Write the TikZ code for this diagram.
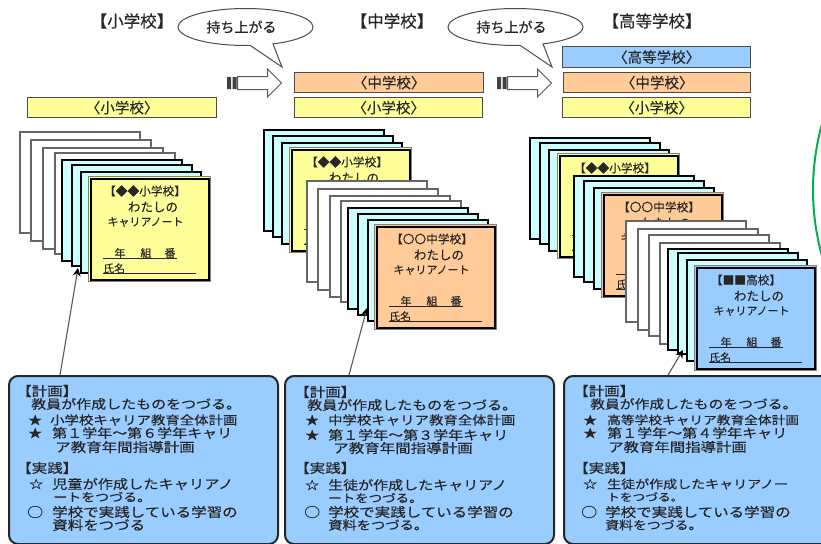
\documentclass[tikz,border=0pt]{standalone}
\usepackage{fontspec}
\setmainfont{Noto Sans CJK JP}[FakeBold=0.25]
\usetikzlibrary{shapes.callouts,shapes.arrows,arrows.meta}
\definecolor{cyellow}{HTML}{FFFF99}
\definecolor{corange}{HTML}{FFCC99}
\definecolor{cblue}{HTML}{99CCFF}
\definecolor{ccyan}{HTML}{CCFFFF}
\definecolor{ink}{HTML}{262626}
\newcommand{\fs}[1]{\fontsize{#1pt}{#1pt}\selectfont}
\tikzset{
  headlabel/.style={inner sep=0pt,text=ink,font=\fs{16.5}},
  barbox/.style={draw=black!70,line width=1.3pt,anchor=north west,inner sep=0pt,text=ink,font=\fs{14.5},minimum height=20pt},
  bubble/.style={ellipse callout,draw=black!70,fill=white,line width=1pt,minimum width=135pt,minimum height=37pt,inner sep=0pt,text=ink,font=\fs{14},callout pointer arc=20},
  movearrow/.style={single arrow,draw=black!65,fill=white,line width=1pt,minimum height=44pt,single arrow head extend=7.5pt,inner sep=0pt,anchor=west},
  whitecard/.style={draw=black!60,fill=white,line width=1.5pt,anchor=north west,minimum width=120pt,minimum height=101pt,inner sep=0pt},
  cyancard/.style={draw=black,fill=ccyan,line width=2pt,anchor=north west,minimum width=120pt,minimum height=101pt,inner sep=0pt},
  titlecard/.style={draw=black!50,line width=1pt,anchor=north west,minimum width=122pt,minimum height=105pt,inner sep=0pt},
  cardtext/.style={inner sep=0pt,text=ink},
  planbox/.style={draw=black!85,fill=cblue,line width=2pt,rounded corners=9pt,anchor=north west,minimum height=168pt,inner sep=0pt},
  planline/.style={inner sep=0pt,anchor=west,text=ink},
  pointer/.style={draw=black!65,line width=1.1pt,-{Stealth[length=8pt,width=8pt,color=black]}}
}
\newcommand{\cardW}[3]{\node[whitecard] (#1) at (#2,#3) {};}
\newcommand{\cardC}[3]{\node[cyancard] (#1) at (#2,#3) {};}
% name, colour, x, y, heading, heading offset
\newcommand{\cardT}[6]{%
  \node[titlecard,fill=#2] (#1) at (#3,#4) {};
  \draw[black,line width=2pt] ([shift={(2.5pt,-2.5pt)}]#1.north west) rectangle ([shift={(-2.5pt,2.5pt)}]#1.south east);
  \node[cardtext,font=\fs{11.7}] (#1h) at ([shift={(#6pt,-15pt)}]#1.north west) {#5};
  \node[cardtext,font=\fs{12.5}] (#1a) at ([shift={(65pt,-31pt)}]#1.north west) {わたしの};
  \node[cardtext,font=\fs{11}] (#1b) at ([shift={(57.5pt,-46pt)}]#1.north west) {キャリアノート};
  \node[cardtext,font=\fs{11}] (#1c) at ([shift={(32pt,-77pt)}]#1.north west) {年};
  \node[cardtext,font=\fs{11}] (#1d) at ([shift={(58pt,-77pt)}]#1.north west) {組};
  \node[cardtext,font=\fs{11}] (#1e) at ([shift={(82pt,-77pt)}]#1.north west) {番};
  \draw[ink,line width=.9pt] ([shift={(15pt,-82pt)}]#1.north west) -- ([shift={(89pt,-82pt)}]#1.north west);
  \node[cardtext,anchor=west,font=\fs{11}] (#1f) at ([shift={(15pt,-92.5pt)}]#1.north west) {氏名};
  \draw[ink,line width=.9pt] ([shift={(15pt,-97.5pt)}]#1.north west) -- ([shift={(108pt,-97.5pt)}]#1.north west);
}
\newcommand{\pl}[5]{\node[planline,font=\fs{#4}] (#1) at (#2,#3) {\scalebox{1}[0.84]{#5}};}
\begin{document}
\begin{tikzpicture}[x=1pt,y=-1pt]
\useasboundingbox (0,0) rectangle (821,543);
\clip (0,0) rectangle (821,543);
\fill[white] (0,0) rectangle (821,543);
% green arc at right edge
\draw[color={rgb,255:red,0;green,176;blue,80},line width=2pt] (1057,190) circle (244pt);
% headings
\node[headlabel] (h1) at (132,21) {【小学校】};
\node[headlabel] (h2) at (392,21) {【中学校】};
\node[headlabel] (h3) at (652,21) {【高等学校】};
% bars
\node[barbox,fill=cyellow,minimum width=189pt] (b1) at (27,97) {〈小学校〉};
\node[barbox,fill=corange,minimum width=189pt] (b2o) at (294,72) {〈中学校〉};
\node[barbox,fill=cyellow,minimum width=188pt] (b2y) at (294,97) {〈小学校〉};
\node[barbox,fill=cblue,minimum width=188pt,minimum height=21pt] (b3b) at (562,46) {〈高等学校〉};
\node[barbox,fill=corange,minimum width=187pt] (b3o) at (563,72) {〈中学校〉};
\node[barbox,fill=cyellow,minimum width=188pt] (b3y) at (562,97) {〈小学校〉};
% callouts
\coordinate (tip1) at (282,67);
\coordinate (tip2) at (552,67);
\node[bubble,callout absolute pointer={(tip1)}] (c1) at (245.5,27) {持ち上がる\hspace*{8pt}};
\node[bubble,callout absolute pointer={(tip2)}] (c2) at (515.5,27) {持ち上がる\hspace*{8pt}};
% block arrows
\node[movearrow] (m1) at (237,83) {\rule{0pt}{12pt}};
\fill[black!75] (227,77) rectangle (231,89) (232.5,77) rectangle (236.5,89);
\node[movearrow] (m2) at (507,83) {\rule{0pt}{12pt}};
\fill[black!75] (497,77) rectangle (501,89) (502.5,77) rectangle (506.5,89);
% stack 1
\cardW{a1}{19}{131}\cardW{a2}{30}{139}\cardW{a3}{42}{147}\cardW{a4}{54}{152}
\cardC{a5}{61}{159}\cardC{a6}{71}{164}\cardC{a7}{80}{171}
\cardT{a8}{cyellow}{88}{176}{【◆◆小学校】}{57}
% stack 2
\cardC{d1}{263}{129}\cardC{d2}{272}{135}\cardC{d3}{281}{142}
\cardT{d4}{cyellow}{289}{147}{【◆◆小学校】}{58}
\cardW{d5}{306}{180}\cardW{d6}{317}{188}\cardW{d7}{329}{195}\cardW{d8}{340}{200}
\cardC{d9}{347}{207}\cardC{d10}{357}{213}\cardC{d11}{367}{219}
\cardT{d12}{corange}{374}{224}{【〇〇中学校】}{58}
% stack 3
\cardC{e1}{529}{137}\cardC{e2}{539}{142}\cardC{e3}{548}{149}
\cardT{e4}{cyellow}{557}{153}{【◆◆小学校】}{58}
\cardC{e5}{573}{175}\cardC{e6}{583}{180}\cardC{e7}{593}{187}
\cardT{e8}{corange}{601}{192}{【〇〇中学校】}{58}
\cardW{e9}{625}{220}\cardW{e10}{637}{228}\cardW{e11}{648}{234}\cardW{e12}{659}{242}
\cardC{e13}{667}{248}\cardC{e14}{677}{252}\cardC{e15}{686}{259}
\cardT{e16}{cblue}{694}{265}{【■■高校】}{52}
% plan boxes
\node[planbox,minimum width=269pt] (p1) at (8,375) {};
\node[planbox,minimum width=269pt] (p2) at (284,375) {};
\node[planbox,minimum width=270pt] (p3) at (563,375) {};
% pointers
\coordinate (t1) at (78,268);
\coordinate (t2) at (367,308);
\coordinate (t3) at (683,350);
\draw[pointer] ([xshift=52pt]p1.north west) -- (t1);
\draw[pointer] ([xshift=65pt]p2.north west) -- (t2);
\draw[pointer] ([xshift=105pt]p3.north west) -- (t3);
% plan text 1
\pl{p1a}{16}{391}{15.5}{【計画】}
\pl{p1b}{31}{404}{15}{教員が作成したものをつづる。}
\pl{p1c}{28}{420}{14}{★}
\pl{p1d}{50}{420}{14.4}{小学校キャリア教育全体計画}
\pl{p1e}{28}{433}{14}{★}
\pl{p1f}{52}{433}{15}{第１学年～第６学年キャリ}
\pl{p1g}{55}{447}{15.5}{ア教育年間指導計画}
\pl{p1h}{16}{468}{15.5}{【実践】}
\pl{p1i}{29}{484}{14}{☆}
\pl{p1j}{52}{484}{15.2}{児童が作成したキャリアノ}
\pl{p1k}{53}{497}{14}{ートをつづる。}
\pl{p1l}{27}{512}{16}{○}
\pl{p1m}{52}{512}{15.5}{学校で実践している学習の}
\pl{p1n}{52}{525}{15.5}{資料をつづる}
% plan text 2
\pl{p2a}{294}{392}{15.5}{【計画】}
\pl{p2b}{307}{405}{15}{教員が作成したものをつづる。}
\pl{p2c}{305}{420}{14}{★}
\pl{p2d}{328}{420}{14.4}{中学校キャリア教育全体計画}
\pl{p2e}{305}{435}{14}{★}
\pl{p2f}{328}{435}{15}{第１学年～第３学年キャリ}
\pl{p2g}{333}{448}{15.5}{ア教育年間指導計画}
\pl{p2h}{294}{468}{15.5}{【実践】}
\pl{p2i}{305}{485}{14}{☆}
\pl{p2j}{328}{485}{15}{生徒が作成したキャリアノ}
\pl{p2k}{328}{498}{13.5}{ートをつづる。}
\pl{p2l}{304}{512}{16}{○}
\pl{p2m}{328}{512}{15.5}{学校で実践している学習の}
\pl{p2n}{328}{525}{14.3}{資料をつづる。}
% plan text 3
\pl{p3a}{573}{391}{15.5}{【計画】}
\pl{p3b}{590}{404}{14.8}{教員が作成したものをつづる。}
\pl{p3c}{583}{420}{14}{★}
\pl{p3d}{607}{420}{13.7}{高等学校キャリア教育全体計画}
\pl{p3e}{583}{433}{14}{★}
\pl{p3f}{607}{433}{15}{第１学年～第４学年キャリ}
\pl{p3g}{608}{447}{15.4}{ア教育年間指導計画}
\pl{p3h}{573}{468}{15.5}{【実践】}
\pl{p3i}{583}{484}{14}{☆}
\pl{p3j}{607}{484}{14}{生徒が作成したキャリアノー}
\pl{p3k}{607}{497}{12.7}{トをつづる。}
\pl{p3l}{581}{512}{16}{○}
\pl{p3m}{605}{512}{15.5}{学校で実践している学習の}
\pl{p3n}{605}{525}{13.9}{資料をつづる。}
\end{tikzpicture}
\end{document}
